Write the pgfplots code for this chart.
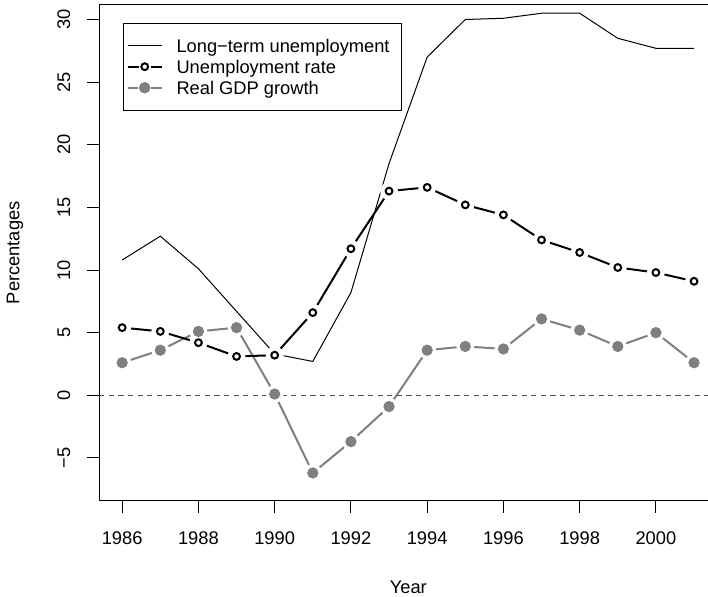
\documentclass[border=0pt]{standalone}
\usepackage{fontspec}
\setmainfont{Liberation Sans}
\usepackage{pgfplots}
\usepackage{pgfplotstable}
\pgfplotsset{compat=1.18}

\definecolor{gdpgrey}{RGB}{127,127,127}
\definecolor{zerogrey}{RGB}{80,80,80}

% year, long-term unemployment, unemployment rate, real GDP growth
\pgfplotstableread{
year longterm unemp gdp
1986 10.8  5.4  2.6
1987 12.7  5.1  3.6
1988 10.1  4.2  5.1
1989  6.7  3.1  5.4
1990  3.3  3.2  0.1
1991  2.7  6.6 -6.2
1992  8.2 11.7 -3.7
1993 18.5 16.3 -0.9
1994 27.0 16.6  3.6
1995 30.0 15.2  3.9
1996 30.1 14.4  3.7
1997 30.5 12.4  6.1
1998 30.5 11.4  5.2
1999 28.5 10.2  3.9
2000 27.7  9.8  5.0
2001 27.7  9.1  2.6
}\finland

\begin{document}
\begin{tikzpicture}[font=\fontsize{9.15pt}{11pt}\selectfont]
\useasboundingbox (-49.65pt,-48pt) rectangle (304.35pt,250.5pt);
\begin{axis}[
  at={(0pt,0pt)}, anchor=south west,
  scale only axis, width=309pt, height=248.25pt,
  xmin=1985.4, xmax=2001.61, ymin=-8.44, ymax=31.2,
  axis line style={line width=0.5pt},
  xtick={1986,1988,1990,1992,1994,1996,1998,2000},
  xticklabels={1986,1988,1990,1992,1994,1996,1998,2000},
  ytick={-5,0,5,10,15,20,25,30},
  yticklabels={−5,0,5,10,15,20,25,30},
  xtick pos=bottom, ytick pos=left,
  tick align=outside,
  major tick length=6pt,
  tick style={line width=0.5pt, black},
  xticklabel style={anchor=base, inner sep=0pt, yshift=-16pt},
  yticklabel style={anchor=base, inner sep=0pt, rotate=90, yshift=8.65pt},
  xlabel={Year}, ylabel={Percentages},
  xlabel style={at={(axis description cs:0.5,-0.18731)}, anchor=base, inner sep=0pt},
  ylabel style={at={(axis description cs:-0.12945,0.5)}, anchor=base, inner sep=0pt},
  legend style={at={(axis description cs:0.0379,0.9633)}, anchor=north west,
    draw=black, line width=0.5pt, fill=white,
    inner xsep=1.65pt, inner ysep=6pt, row sep=0pt,
    cells={anchor=west},
    nodes={inner sep=0pt, text height=8.5pt, text depth=2pt},
    /tikz/every odd column/.append style={column sep=7pt},
    font=\fontsize{9.15pt}{11pt}\selectfont},
]
\addlegendimage{legend image code/.code={
  \draw[black, line width=0.5pt] (0pt,0pt) -- (17pt,0pt);}}
\addlegendentry{Long−term unemployment\rule{4.5pt}{0pt}}
\addlegendimage{legend image code/.code={
  \draw[black, line width=1pt] (0pt,0pt) -- (5.6pt,0pt) (11.6pt,0pt) -- (17pt,0pt);
  \draw[black, line width=1pt, fill=white] (8.6pt,0pt) circle (1.7pt);}}
\addlegendentry{Unemployment rate}
\addlegendimage{legend image code/.code={
  \draw[gdpgrey, line width=1pt] (0pt,0pt) -- (5.3pt,0pt) (11.9pt,0pt) -- (17pt,0pt);
  \fill[gdpgrey] (8.6pt,0pt) circle (2.6pt);}}
\addlegendentry{Real GDP growth}

% lines first, then white gaps round the points (type "b")
\addplot[gdpgrey, line width=1pt, forget plot] table[x=year, y=gdp] {\finland};
\addplot[white, only marks, mark=*, mark size=4.25pt, forget plot]
  table[x=year, y=gdp] {\finland};
\addplot[black, line width=1pt, forget plot] table[x=year, y=unemp] {\finland};
\addplot[white, only marks, mark=*, mark size=4.25pt, forget plot]
  table[x=year, y=unemp] {\finland};

% zero reference line
\addplot[zerogrey, line width=0.5pt, dash pattern=on 2.6pt off 2.2pt, forget plot]
  coordinates {(1985.4,0) (2001.61,0)};

% points
\addplot[gdpgrey, only marks, mark=*, mark size=2.6pt, forget plot]
  table[x=year, y=gdp] {\finland};
\addplot[black, only marks, mark=*, mark size=1.7pt, mark options={fill=white, line width=1pt}, forget plot]
  table[x=year, y=unemp] {\finland};

\addplot[black, line width=0.5pt, forget plot] table[x=year, y=longterm] {\finland};
\end{axis}
\end{tikzpicture}
\end{document}
